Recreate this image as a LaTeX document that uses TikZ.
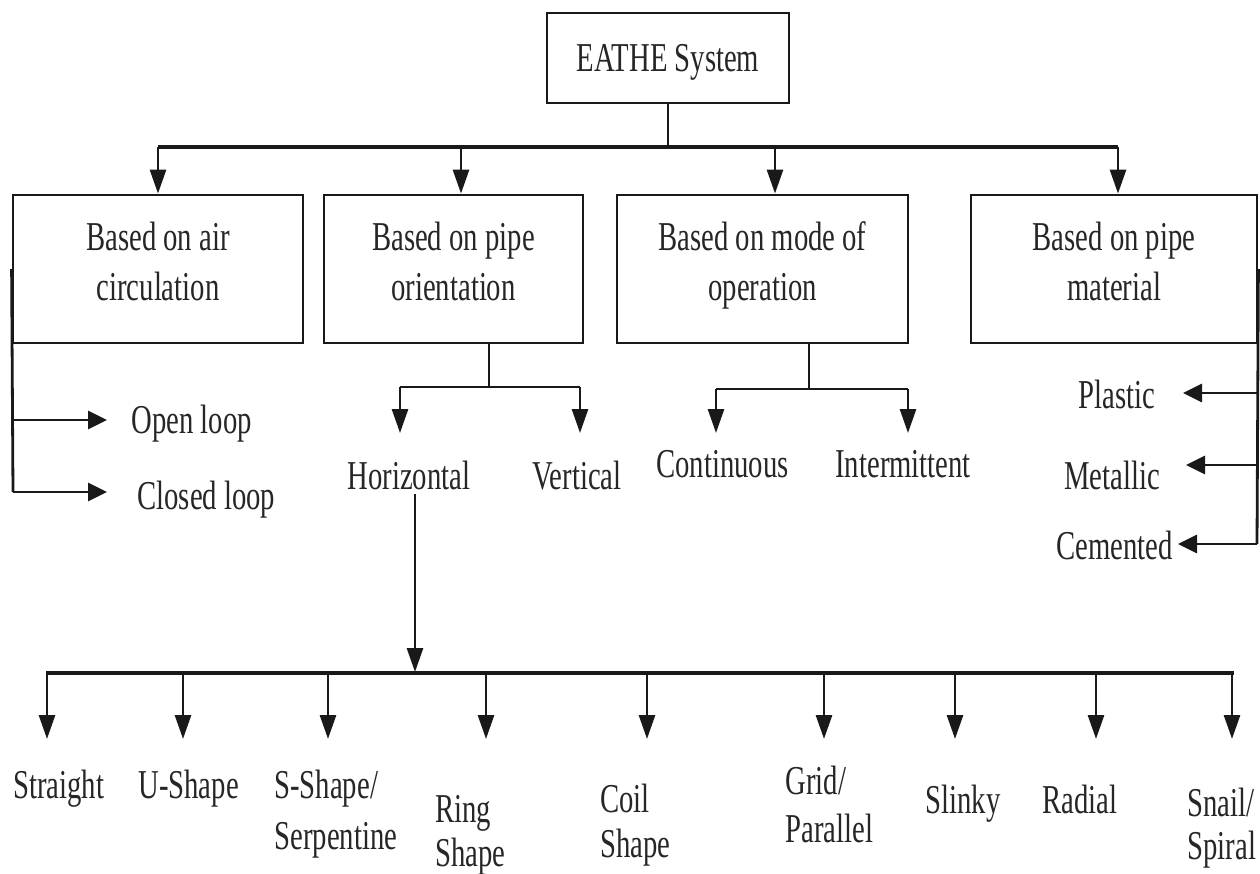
\documentclass[tikz,border=0pt]{standalone}
\usepackage{fontspec}
\setmainfont[FakeStretch=0.70]{Liberation Serif}
\usetikzlibrary{arrows.meta}
\newcommand\dnstrut{\rule[-15pt]{0pt}{15pt}}
\begin{document}
\begin{tikzpicture}[x=1pt,y=-1pt,
  line width=2.8pt, line cap=butt, color={black!90},
  arr/.style={-{Triangle[length=24pt,width=16pt]}},
  sarr/.style={-{Triangle[length=19pt,width=18pt]}},
  bar/.style={line width=3.6pt},
  box/.style={draw, rectangle, inner sep=0pt, align=center, text=black!85,
    font=\fontsize{41pt}{50pt}\selectfont},
  lbl/.style={inner sep=0pt, anchor=base west, text=black!85,
    font=\fontsize{41pt}{44pt}\selectfont}]
\useasboundingbox (0,0) rectangle (1260,874);

% ---------- boxes ----------
\node[box, minimum width=242pt, minimum height=90pt, text height=27pt, text depth=0pt] (top) at (668,58) {EATHE System};
\node[box, minimum width=290pt, minimum height=148pt] (b1) at (158,269) {Based on air\\circulation\dnstrut};
\node[box, minimum width=259pt, minimum height=148pt] (b2) at (453.5,269) {Based on pipe\\orientation\dnstrut};
\node[box, minimum width=291pt, minimum height=148pt] (b3) at (762.5,269) {Based on mode of\\operation\dnstrut};
\node[box, minimum width=286pt, minimum height=148pt] (b4) at (1114,269) {Based on pipe\\material\dnstrut};

% ---------- labels ----------
\node[lbl] (open) at (130,433) {Open loop};
\node[lbl] (closed) at (136,509) {Closed loop};
\node[lbl] (horiz) at (346,489) {Horizontal};
\node[lbl] (vert) at (531,489) {Vertical};
\node[lbl] (cont) at (655,477) {Continuous};
\node[lbl] (inter) at (834,477) {Intermittent};
\node[lbl] (plastic) at (1077,408) {Plastic};
\node[lbl] (metal) at (1063,489) {Metallic};
\node[lbl] (cement) at (1055,559) {Cemented};

\node[lbl] (straight) at (12,798) {Straight};
\node[lbl] (ushape) at (137,798) {U-Shape};
\node[lbl] (sshape) at (273,798) {S-Shape/};
\node[lbl] (serp) at (273,849) {Serpentine};
\node[lbl] (ring) at (434,822) {Ring};
\node[lbl] (ringb) at (434,866) {Shape};
\node[lbl] (coil) at (599,812) {Coil};
\node[lbl] (coilb) at (599,857) {Shape};
\node[lbl] (grid) at (784,794) {Grid/};
\node[lbl] (gridb) at (784,842) {Parallel};
\node[lbl] (slinky) at (924,813) {Slinky};
\node[lbl] (radial) at (1041,813) {Radial};
\node[lbl] (snail) at (1186,816) {Snail/};
\node[lbl] (spiral) at (1186,859) {Spiral};

% ---------- top level ----------
\coordinate (tj) at (668,147);
\coordinate (c1) at (158,147);
\coordinate (c2) at (461,147);
\coordinate (c3) at (775,147);
\coordinate (c4) at (1118,147);
\draw (top.south) -- (tj);
\draw[bar] (c1) -- (c4);
\draw[arr] (c1) -- (c1 |- b1.north);
\draw[arr] (c2) -- (c2 |- b2.north);
\draw[arr] (c3) -- (c3 |- b3.north);
\draw[arr] (c4) -- (c4 |- b4.north);

% ---------- air circulation ----------
\coordinate (l1) at (13,420);
\coordinate (l2) at (13,492);
\coordinate (t1) at (107,420);
\coordinate (t2) at (107,492);
\draw (b1.west) -- (l2);
\draw[sarr] (l1) -- (t1);
\draw[sarr] (l2) -- (t2);

% ---------- pipe orientation ----------
\coordinate (o0) at (489,343);
\coordinate (o1) at (489,387);
\coordinate (oh) at (400,387);
\coordinate (ov) at (580,387);
\coordinate (ohT) at (400,433);
\coordinate (ovT) at (580,433);
\draw (o0) -- (o1);
\draw (oh) -- (ov);
\draw[arr] (oh) -- (ohT);
\draw[arr] (ov) -- (ovT);

% ---------- mode of operation ----------
\coordinate (m0) at (809,343);
\coordinate (m1) at (809,389);
\coordinate (mc) at (716,389);
\coordinate (mi) at (908,389);
\coordinate (mcT) at (716,433);
\coordinate (miT) at (908,433);
\draw (m0) -- (m1);
\draw (mc) -- (mi);
\draw[arr] (mc) -- (mcT);
\draw[arr] (mi) -- (miT);

% ---------- pipe material ----------
\coordinate (r1) at (1257,393);
\coordinate (r2) at (1257,465);
\coordinate (r3) at (1257,544);
\coordinate (rp) at (1183,393);
\coordinate (rm) at (1186,465);
\coordinate (rc) at (1178,544);
\draw (b4.east) -- (r3);
\draw[sarr] (r1) -- (rp);
\draw[sarr] (r2) -- (rm);
\draw[sarr] (r3) -- (rc);

% ---------- horizontal subtypes ----------
\coordinate (h0) at (415,494);
\coordinate (h1) at (415,672);
\draw[arr] (h0) -- (h1);
\coordinate (bl) at (46,673);
\coordinate (br) at (1234,673);
\draw[bar] (bl) -- (br);
\foreach \x/\n in {47/a,183/b,328/c,486/d,647/e,824/f,955/g,1096/h,1232/i}{
  \coordinate (s\n) at (\x,673);
  \coordinate (e\n) at (\x,739);
  \draw[arr] (s\n) -- (e\n);
}
\end{tikzpicture}
\end{document}
